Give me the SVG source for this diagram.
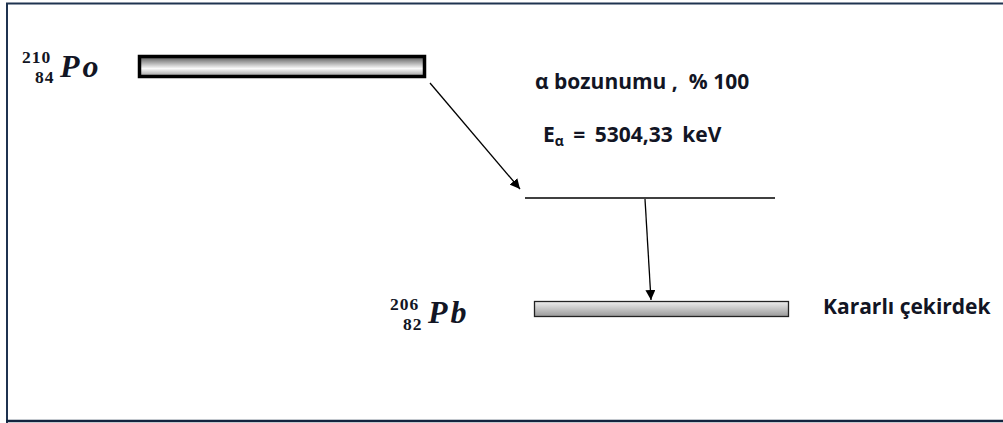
<svg xmlns="http://www.w3.org/2000/svg" width="1003" height="423" viewBox="0 0 1003 423">
<style>
.lbl{font-family:"Open Sans","Liberation Sans",sans-serif;font-weight:bold;fill:#121524;font-size:21px;}
.iso{font-family:"Liberation Serif","DejaVu Serif",serif;font-weight:bold;fill:#121524;font-size:17.5px;letter-spacing:1px;}
.sym{font-family:"Liberation Serif","DejaVu Serif",serif;font-weight:bold;fill:#121524;font-size:32px;font-style:italic;letter-spacing:3px;}
.conn{stroke:#000;stroke-width:1.3;fill:none;marker-end:url(#ah);}
</style>
<defs>
<linearGradient id="g1" x1="0" y1="0" x2="0" y2="1">
<stop offset="0" stop-color="#555"/>
<stop offset="0.6" stop-color="#fafafa"/>
<stop offset="1" stop-color="#999"/>
</linearGradient>
<linearGradient id="g2" x1="0" y1="0" x2="0" y2="1">
<stop offset="0" stop-color="#eee"/>
<stop offset="1" stop-color="#999"/>
</linearGradient>
<marker id="ah" viewBox="0 0 10 10" refX="10" refY="5" markerWidth="10" markerHeight="10" markerUnits="userSpaceOnUse" orient="auto">
<path d="M0,0 L10,5 L0,10 z" fill="#000"/>
</marker>
</defs>
<rect width="1003" height="423" fill="#fff"/>
<path d="M7,423 V3.5 H1003" stroke="#1f3350" stroke-width="2" fill="none"/>
<line x1="6" y1="421" x2="1003" y2="421" stroke="#13243f" stroke-width="2.5"/>
<g id="po">
<rect x="139.5" y="56.5" width="285" height="20" fill="url(#g1)" stroke="#000" stroke-width="3.5"/>
<text class="iso" x="22" y="63">210</text>
<text class="iso" x="35" y="83">84</text>
<text class="sym" x="60" y="77">Po</text>
</g>
<g id="mid">
<line x1="525" y1="198" x2="775" y2="198" stroke="#000" stroke-width="1.3"/>
<text class="lbl" x="535" y="89" font-size="22" xml:space="preserve">α bozunumu ,  % 100</text>
<text class="lbl" x="543" y="142" word-spacing="4">E<tspan font-size="14" dy="4">α</tspan><tspan dy="-4"> = 5304,33 keV</tspan></text>
</g>
<g id="pb">
<rect x="534.5" y="301.5" width="254" height="15" fill="url(#g2)" stroke="#222" stroke-width="1.3"/>
<text class="iso" x="390" y="310">206</text>
<text class="iso" x="403" y="330">82</text>
<text class="sym" x="428" y="323">Pb</text>
<text class="lbl" x="823" y="314">Kararlı çekirdek</text>
</g>
<g id="connectors">
<line class="conn" x1="430" y1="83" x2="520" y2="189"/>
<line class="conn" x1="645" y1="199" x2="651" y2="300"/>
</g>
</svg>
